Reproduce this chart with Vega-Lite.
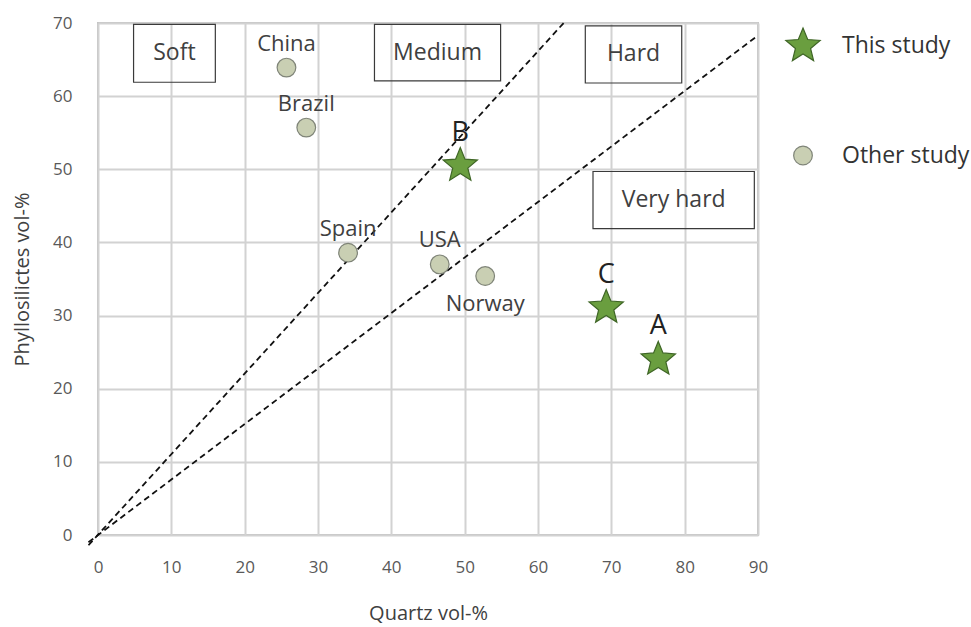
{
  "$schema": "https://vega.github.io/schema/vega-lite/v6.json",
  "width": 660,
  "height": 512,
  "autosize": {"type": "none"},
  "padding": {"left": 98, "top": 23, "right": 213, "bottom": 92},
  "background": "white",
  "config": {
    "font": "Open Sans",
    "view": {"stroke": "#c4c4c4", "strokeWidth": 2},
    "axis": {
      "grid": true,
      "gridColor": "#d2d2d2",
      "gridWidth": 2,
      "domain": false,
      "ticks": false,
      "labelFlush": false,
      "labelFont": "Open Sans",
      "labelColor": "#595959",
      "titleFont": "Open Sans",
      "titleFontWeight": "normal",
      "titleColor": "#404040"
    },
    "legend": {
      "orient": "none",
      "legendX": 686,
      "legendY": 4,
      "title": null,
      "labelFont": "Open Sans",
      "labelFontSize": 23,
      "labelColor": "#333333",
      "labelOffset": 20,
      "rowPadding": 80,
      "symbolStrokeWidth": 1.2,
      "symbolOpacity": 1
    }
  },
  "datasets": {
    "lines": [
      {"line": "upper", "q": -1.3, "p": -1.4},
      {"line": "upper", "q": 63.5, "p": 70},
      {"line": "lower", "q": -1.3, "p": -1.0},
      {"line": "lower", "q": 90, "p": 68.3}
    ],
    "boxes": [
      {"label": "Soft", "q1": 4.85, "q2": 16.0, "p1": 61.9, "p2": 69.8},
      {"label": "Medium", "q1": 37.7, "q2": 54.9, "p1": 62.1, "p2": 69.8},
      {"label": "Hard", "q1": 66.45, "q2": 79.6, "p1": 61.8, "p2": 69.6},
      {"label": "Very hard", "q1": 67.5, "q2": 89.5, "p1": 41.9, "p2": 49.7}
    ],
    "points": [
      {"name": "China", "study": "Other study", "q": 25.7, "p": 63.9},
      {"name": "Brazil", "study": "Other study", "q": 28.4, "p": 55.7},
      {"name": "Spain", "study": "Other study", "q": 34.1, "p": 38.6},
      {"name": "USA", "study": "Other study", "q": 46.6, "p": 37.0},
      {"name": "Norway", "study": "Other study", "q": 52.8, "p": 35.4},
      {"name": "B", "study": "This study", "q": 49.4, "p": 50.5},
      {"name": "C", "study": "This study", "q": 69.3, "p": 31.1},
      {"name": "A", "study": "This study", "q": 76.4, "p": 24.0}
    ]
  },
  "encoding": {
    "x": {
      "type": "quantitative",
      "scale": {"domain": [0, 90], "nice": false, "zero": false},
      "axis": {"values": [0, 10, 20, 30, 40, 50, 60, 70, 80, 90], "title": "Quartz vol-%", "labelFontSize": 17, "titleFontSize": 20, "labelFlush": false, "labelPadding": 24, "titlePadding": 28}
    },
    "y": {
      "type": "quantitative",
      "scale": {"domain": [0, 70], "nice": false, "zero": false},
      "axis": {"values": [0, 10, 20, 30, 40, 50, 60, 70], "title": "Phyllosilictes vol-%", "labelFontSize": 17, "titleFontSize": 20, "labelFlush": false, "labelPadding": 26, "titlePadding": 20}
    }
  },
  "layer": [
    {
      "data": {"name": "lines"},
      "mark": {"type": "line", "stroke": "#111111", "strokeWidth": 1.8, "strokeDash": [6, 4], "clip": false},
      "encoding": {
        "x": {"field": "q", "type": "quantitative"},
        "y": {"field": "p", "type": "quantitative"},
        "detail": {"field": "line"}
      }
    },
    {
      "data": {"name": "boxes"},
      "mark": {"type": "rect", "fill": null, "fillOpacity": 0, "stroke": "#3a3a3a", "strokeWidth": 1.2},
      "encoding": {
        "x": {"field": "q1", "type": "quantitative"},
        "x2": {"field": "q2"},
        "y": {"field": "p1", "type": "quantitative"},
        "y2": {"field": "p2"}
      }
    },
    {
      "data": {"name": "boxes"},
      "transform": [
        {"calculate": "(datum.q1 + datum.q2) / 2", "as": "qc"},
        {"calculate": "(datum.p1 + datum.p2) / 2", "as": "pc"}
      ],
      "mark": {"type": "text", "font": "Open Sans", "fontSize": 23, "color": "#404040", "align": "center", "baseline": "middle"},
      "encoding": {
        "x": {"field": "qc", "type": "quantitative"},
        "y": {"field": "pc", "type": "quantitative"},
        "text": {"field": "label"}
      }
    },
    {
      "data": {"name": "points"},
      "mark": {"type": "point", "filled": true, "strokeWidth": 1.2, "opacity": 1},
      "encoding": {
        "x": {"field": "q", "type": "quantitative"},
        "y": {"field": "p", "type": "quantitative"},
        "shape": {
          "field": "study", "type": "nominal",
          "scale": {"domain": ["This study", "Other study"], "range": ["M0,-1L0.26,-0.36L0.951,-0.309L0.42,0.137L0.588,0.809L0,0.44L-0.588,0.809L-0.42,0.137L-0.951,-0.309L-0.26,-0.36Z", "circle"]}
        },
        "color": {
          "field": "study", "type": "nominal",
          "scale": {"domain": ["This study", "Other study"], "range": ["#6a9e3f", "#c9cfb3"]}
        },
        "stroke": {
          "field": "study", "type": "nominal",
          "scale": {"domain": ["This study", "Other study"], "range": ["#3f6626", "#7f8478"]}
        },
        "size": {
          "field": "study", "type": "nominal",
          "scale": {"domain": ["This study", "Other study"], "range": [1300, 350]}
        }
      }
    },
    {
      "data": {"name": "points"},
      "transform": [{"filter": "datum.study == 'Other study' && datum.name != 'Norway'"}],
      "mark": {"type": "text", "font": "Open Sans", "fontSize": 22, "color": "#404040", "align": "center", "baseline": "middle", "dy": -24},
      "encoding": {
        "x": {"field": "q", "type": "quantitative"},
        "y": {"field": "p", "type": "quantitative"},
        "text": {"field": "name"}
      }
    },
    {
      "data": {"name": "points"},
      "transform": [{"filter": "datum.name == 'Norway'"}],
      "mark": {"type": "text", "font": "Open Sans", "fontSize": 22, "color": "#404040", "align": "center", "baseline": "middle", "dy": 28},
      "encoding": {
        "x": {"field": "q", "type": "quantitative"},
        "y": {"field": "p", "type": "quantitative"},
        "text": {"field": "name"}
      }
    },
    {
      "data": {"name": "points"},
      "transform": [{"filter": "datum.study == 'This study'"}],
      "mark": {"type": "text", "font": "Open Sans", "fontSize": 27, "color": "#222222", "align": "center", "baseline": "middle", "dy": -33},
      "encoding": {
        "x": {"field": "q", "type": "quantitative"},
        "y": {"field": "p", "type": "quantitative"},
        "text": {"field": "name"}
      }
    }
  ]
}
